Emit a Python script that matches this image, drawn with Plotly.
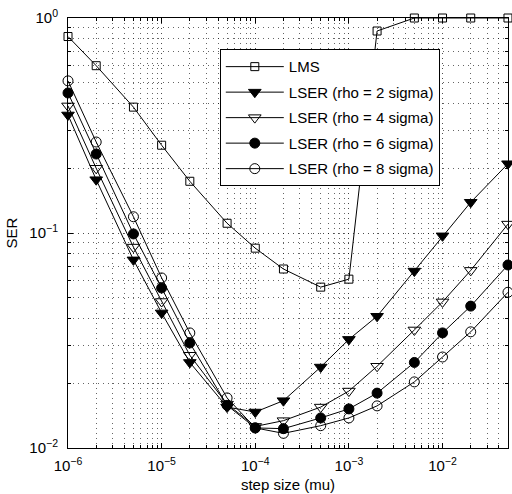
import plotly.graph_objects as go

mu = [1e-6, 2e-6, 5e-6, 1e-5, 2e-5, 5e-5, 1e-4, 2e-4, 5e-4, 1e-3, 2e-3, 5e-3, 1e-2, 2e-2, 5e-2]

ser_lms = [0.82, 0.60, 0.385, 0.256, 0.174, 0.111, 0.085, 0.068, 0.056, 0.061, 0.87, 1.0, 1.0, 1.0, 1.0]
ser_rho2 = [0.354, 0.177, 0.075, 0.0425, 0.025, 0.0155, 0.0147, 0.0166, 0.0238, 0.032, 0.041, 0.0665, 0.097, 0.139, 0.21]
ser_rho4 = [0.39, 0.20, 0.086, 0.048, 0.027, 0.016, 0.0126, 0.0134, 0.0155, 0.0184, 0.024, 0.0354, 0.0478, 0.067, 0.11]
ser_rho6 = [0.448, 0.233, 0.099, 0.0555, 0.0308, 0.0158, 0.0124, 0.0123, 0.0138, 0.0152, 0.018, 0.025, 0.0343, 0.0457, 0.071]
ser_rho8 = [0.51, 0.265, 0.119, 0.0618, 0.0343, 0.0171, 0.0124, 0.0117, 0.0127, 0.0138, 0.0157, 0.0203, 0.0265, 0.0347, 0.053]

x_tickvals = [1e-6, 1e-5, 1e-4, 1e-3, 1e-2]
x_ticktext = ["10<sup>−6</sup>", "10<sup>−5</sup>", "10<sup>−4</sup>", "10<sup>−3</sup>", "10<sup>−2</sup>"]
y_tickvals = [1e-2, 1e-1, 1e0]
y_ticktext = ["10<sup>−2</sup>", "10<sup>−1</sup>", "10<sup>0</sup>"]

x_minor = [k * 10.0 ** e for e in range(-6, -1) for k in range(2, 10)] + [2e-2, 3e-2, 4e-2]
y_minor = [k * 10.0 ** e for e in range(-2, 0) for k in range(2, 10)]

names = ["LMS", "LSER (rho = 2 sigma)", "LSER (rho = 4 sigma)", "LSER (rho = 6 sigma)", "LSER (rho = 8 sigma)"]
series = [ser_lms, ser_rho2, ser_rho4, ser_rho6, ser_rho8]
symbols = ["square-open", "triangle-down", "triangle-down-open", "circle", "circle-open"]
sizes = [8, 11, 11, 10, 10]

FONT = "Liberation Sans, Arial"

fig = go.Figure()
for i, (n, s, sym, sz) in enumerate(zip(names, series, symbols, sizes)):
    fig.add_trace(go.Scatter(
        x=mu, y=s, name=n, mode="lines+markers",
        line=dict(color="black", width=1),
        marker=dict(symbol=sym, size=sz, color="black", line=dict(color="black", width=1)),
        cliponaxis=False, legendgroup=f"g{i}",
    ))

def axis_style(minor_vals):
    return dict(
        type="log", showline=True, linecolor="black", linewidth=1, mirror="ticks",
        ticks="inside", ticklen=5, tickcolor="black",
        showgrid=True, gridcolor="rgba(0,0,0,0.7)", griddash="1px,4px", gridwidth=1,
        zeroline=False,
        tickfont=dict(family=FONT, size=15, color="black"),
        minor=dict(tickmode="array", tickvals=minor_vals, ticks="inside", ticklen=3,
                   tickcolor="black", showgrid=True,
                   gridcolor="rgba(0,0,0,0.6)", griddash="1px,4px", gridwidth=1),
    )

fig.update_xaxes(**axis_style(x_minor), range=[-6, -1.3008],
                 tickvals=x_tickvals, ticktext=x_ticktext, ticklabelstandoff=4,
                 title=dict(text="step size (mu)", font=dict(family=FONT, size=15, color="black"), standoff=6))
fig.update_yaxes(**axis_style(y_minor), range=[-2, 0],
                 tickvals=y_tickvals, ticktext=y_ticktext, ticklabelstandoff=6,
                 title=dict(text="SER", font=dict(family=FONT, size=15, color="black"), standoff=8))

fig.update_layout(
    width=512, height=494,
    margin=dict(l=68, r=4, t=18, b=46),
    paper_bgcolor="white", plot_bgcolor="white",
    font=dict(family=FONT, size=15, color="black"),
    legend=dict(x=0.345, y=0.927, xanchor="left", yanchor="top",
                bgcolor="white", bordercolor="black", borderwidth=1,
                font=dict(family=FONT, size=15), tracegroupgap=3, itemwidth=58),
    showlegend=True,
)

fig.write_html("out.html")
